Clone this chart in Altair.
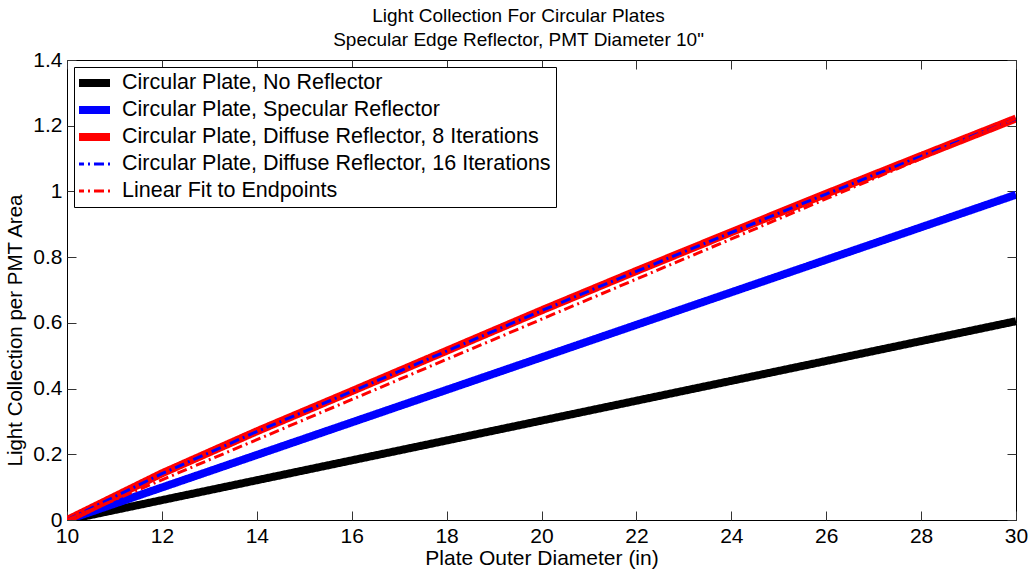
import altair as alt
import pandas as pd

# ---- data ----
x_vals = [10, 12, 14, 16, 18, 20, 22, 24, 26, 28, 30]
no_reflector = [0, 0.0605, 0.121, 0.1815, 0.242, 0.3025, 0.363, 0.4235, 0.484, 0.5445, 0.605]
specular = [0, 0.099, 0.198, 0.297, 0.396, 0.495, 0.594, 0.693, 0.792, 0.891, 0.99]
diffuse_8 = [0, 0.142, 0.270, 0.392, 0.515, 0.638, 0.758, 0.876, 0.993, 1.108, 1.222]
diffuse_16 = [0, 0.141, 0.269, 0.391, 0.514, 0.637, 0.757, 0.875, 0.992, 1.107, 1.221]
fit_x = [10, 30]
fit_y = [0, 1.222]

series_names = [
    "Circular Plate, No Reflector",
    "Circular Plate, Specular Reflector",
    "Circular Plate, Diffuse Reflector, 8 Iterations",
    "Circular Plate, Diffuse Reflector, 16 Iterations",
    "Linear Fit to Endpoints",
]
series_colors = ["#000000", "#0000ff", "#ff0000", "#0000ff", "#ff0000"]
series_dashes = [[1, 0], [1, 0], [1, 0], [10, 4, 2, 4], [10, 4, 2, 4]]
series_widths = [8, 8, 8, 3, 3]

x_ticks = [10, 12, 14, 16, 18, 20, 22, 24, 26, 28, 30]
y_ticks = [0, 0.2, 0.4, 0.6, 0.8, 1, 1.2, 1.4]

rows = []
for name, xs, ys in [
    (series_names[0], x_vals, no_reflector),
    (series_names[1], x_vals, specular),
    (series_names[2], x_vals, diffuse_8),
    (series_names[3], x_vals, diffuse_16),
    (series_names[4], fit_x, fit_y),
]:
    for xv, yv in zip(xs, ys):
        rows.append({"series": name, "x": xv, "y": yv})
df = pd.DataFrame(rows)

FONT = "Liberation Sans"
xscale = alt.Scale(domain=[10, 30], nice=False, zero=False)
yscale = alt.Scale(domain=[0, 1.4], nice=False, zero=True)

legend = alt.Legend(
    title=None, orient="none", legendX=7, legendY=7,
    symbolType="M-2,0H2", symbolSize=324, labelFont=FONT, labelFontSize=21.5,
    labelColor="black", strokeColor="black", fillColor="white",
    padding=5, rowPadding=5, labelOffset=17, labelLimit=600, clipHeight=22,
)

def enc_common(main_axes=False):
    if main_axes:
        xa = alt.Axis(orient="bottom", values=x_ticks, tickSize=0, domain=False, grid=False,
                      labelFlush=False, labelOverlap=False,
                      labelFont=FONT, labelFontSize=21, labelColor="black", labelPadding=5,
                      title="Plate Outer Diameter (in)", titleFont=FONT, titleFontSize=21,
                      titleFontWeight="normal", titleColor="black", titlePadding=1)
        ya = alt.Axis(orient="left", values=y_ticks, tickSize=0, domain=False, grid=False, format="~g",
                      labelFlush=False, labelOverlap=False,
                      labelFont=FONT, labelFontSize=21, labelColor="black", labelPadding=5,
                      title="Light Collection per PMT Area", titleFont=FONT, titleFontSize=20.5,
                      titleFontWeight="normal", titleColor="black", titlePadding=7, titleY=270)
    else:
        xa = None
        ya = None
    return dict(
        x=alt.X("x:Q", scale=xscale, axis=xa),
        y=alt.Y("y:Q", scale=yscale, axis=ya),
        color=alt.Color("series:N", scale=alt.Scale(domain=series_names, range=series_colors), legend=legend),
        strokeDash=alt.StrokeDash("series:N", scale=alt.Scale(domain=series_names, range=series_dashes), legend=legend),
        strokeWidth=alt.StrokeWidth("series:O", scale=alt.Scale(type="ordinal", domain=series_names, range=series_widths), legend=legend),
    )

layers = []
for i, name in enumerate(series_names):
    layers.append(
        alt.Chart(df).transform_filter(alt.datum.series == name)
        .mark_line(strokeCap="butt", clip=True)
        .encode(**enc_common(main_axes=(i == 0)))
    )

tick_style = dict(labels=False, domain=False, grid=False, tickSize=9,
                  tickColor="#333333", tickWidth=1, title=None)

def tick_layer(xorient, yorient):
    xa = alt.Axis(orient=xorient, offset=-9, values=x_ticks, **tick_style)
    ya = alt.Axis(orient=yorient, offset=-9, values=y_ticks, **tick_style)
    return (
        alt.Chart(df).transform_filter(alt.datum.series == series_names[0])
        .mark_point(opacity=0)
        .encode(x=alt.X("x:Q", scale=xscale, axis=xa), y=alt.Y("y:Q", scale=yscale, axis=ya))
    )

chart = (
    alt.layer(*layers, tick_layer("bottom", "left"), tick_layer("top", "right"))
    .resolve_axis(x="independent", y="independent")
    .properties(
        width=949, height=460,
        padding={"left": 67, "top": 60, "right": 15, "bottom": 55},
        autosize=alt.AutoSizeParams(type="none"),
        background="white",
        title=alt.TitleParams(
            text=["Light Collection For Circular Plates", 'Specular Edge Reflector, PMT Diameter 10"'],
            font=FONT, fontSize=19, fontWeight="normal", color="black",
            anchor="middle", offset=10, lineHeight=24, dx=-23, dy=11,
        ),
    )
    .configure_view(stroke="black", strokeWidth=1)
)

chart.save("out.html", embed_options={"renderer": "svg", "actions": False})
